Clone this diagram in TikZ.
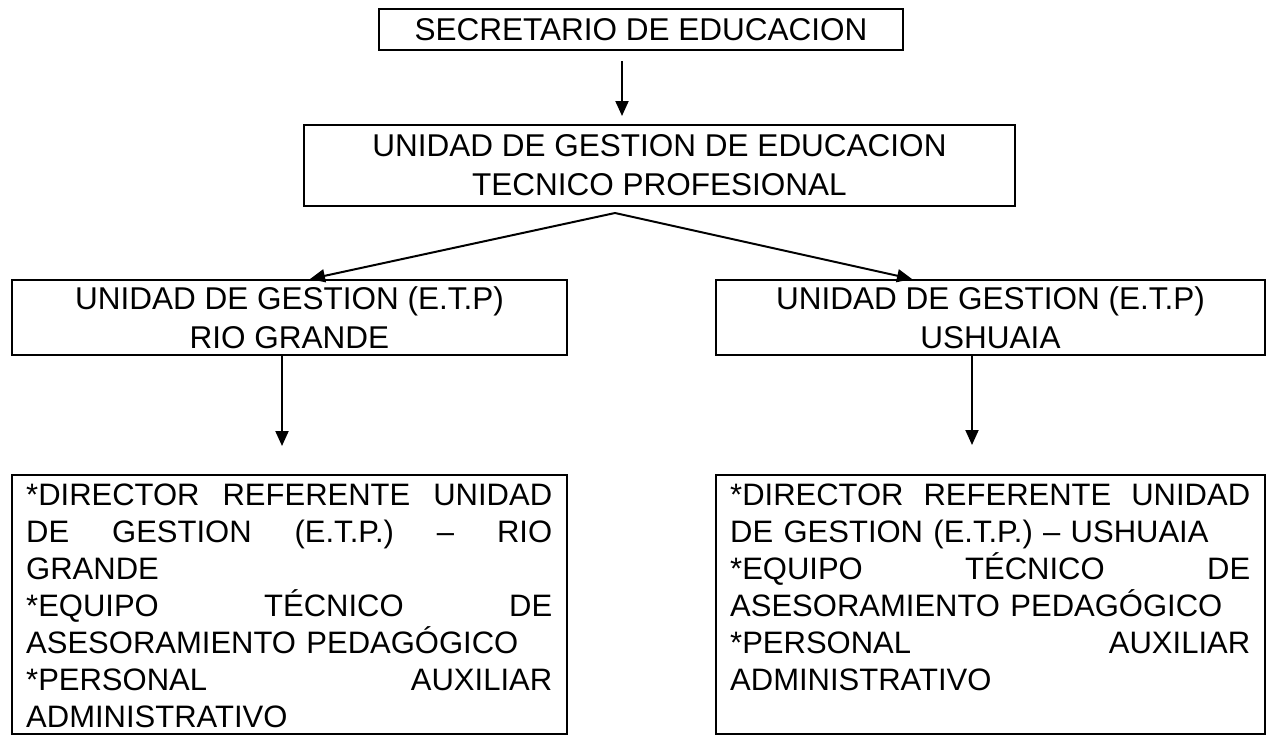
\documentclass[tikz,border=0pt]{standalone}
\usepackage{fontspec}
\setmainfont{Liberation Sans}
\usetikzlibrary{arrows.meta}
\newcommand\jlineL[1]{\makebox[526pt][l]{#1}}
\newcommand\jlineR[1]{\makebox[520pt][l]{#1}}
\begin{document}
\begin{tikzpicture}[x=1pt,y=-1pt,
  box/.style={draw, line width=2pt, inner sep=0pt, align=center, font=\fontsize{31.5}{39}\selectfont},
  arr/.style={line width=2pt, -{Triangle[length=15pt,width=13pt]}},
  body/.style={anchor=base west, inner sep=0pt, align=left, font=\fontsize{31}{37}\selectfont}]
\path[use as bounding box] (0,0) rectangle (1270,736);
% boxes
\node[box, minimum width=524pt, minimum height=41pt] (b1) at (641,29.5) {SECRETARIO DE EDUCACION};
\node[box, minimum width=711pt, minimum height=81pt] (b2) at (659.5,165.5) {UNIDAD DE GESTION DE EDUCACION\\TECNICO PROFESIONAL};
\node[box, minimum width=555pt, minimum height=75pt] (b3l) at (289.5,317.5) {UNIDAD DE GESTION (E.T.P)\\RIO GRANDE};
\node[box, minimum width=549pt, minimum height=75pt] (b3r) at (990.5,317.5) {UNIDAD DE GESTION (E.T.P)\\USHUAIA};
\node[box, minimum width=555pt, minimum height=259pt] (b4l) at (289.5,604.5) {};
\node[box, minimum width=549pt, minimum height=259pt] (b4r) at (990.5,604.5) {};
% body texts
\node[body, text width=526pt] (t4l) at (26,505) {%
\jlineL{*DIRECTOR\hfill REFERENTE\hfill UNIDAD}\\
\jlineL{DE\hfill GESTION\hfill (E.T.P.)\hfill --\hfill RIO}\\
GRANDE\\
\jlineL{*EQUIPO\hfill TÉCNICO\hfill DE}\\
ASESORAMIENTO PEDAGÓGICO\\
\jlineL{*PERSONAL\hfill AUXILIAR}\\
ADMINISTRATIVO};
\node[body, text width=520pt] (t4r) at (730,505) {%
\jlineR{*DIRECTOR\hfill REFERENTE\hfill UNIDAD}\\
DE GESTION (E.T.P.) -- USHUAIA\\
\jlineR{*EQUIPO\hfill TÉCNICO\hfill DE}\\
ASESORAMIENTO PEDAGÓGICO\\
\jlineR{*PERSONAL\hfill AUXILIAR}\\
ADMINISTRATIVO};
% connectors
\coordinate (a0) at (622,0);
\coordinate (ap) at (615,213);
\coordinate (tl) at (310,0);
\coordinate (tr) at (912,0);
\coordinate (dl) at (282,0);
\coordinate (dr) at (972,0);
\draw[arr] ([yshift=-10pt]b1.south -| a0) -- ([yshift=8pt]b2.north -| a0);
\draw[arr] (ap) -- (b3l.north -| tl);
\draw[arr] (ap) -- (b3r.north -| tr);
\draw[arr] (b3l.south -| dl) -- ([yshift=28pt]b4l.north -| dl);
\draw[arr] (b3r.south -| dr) -- ([yshift=29pt]b4r.north -| dr);
\end{tikzpicture}
\end{document}
